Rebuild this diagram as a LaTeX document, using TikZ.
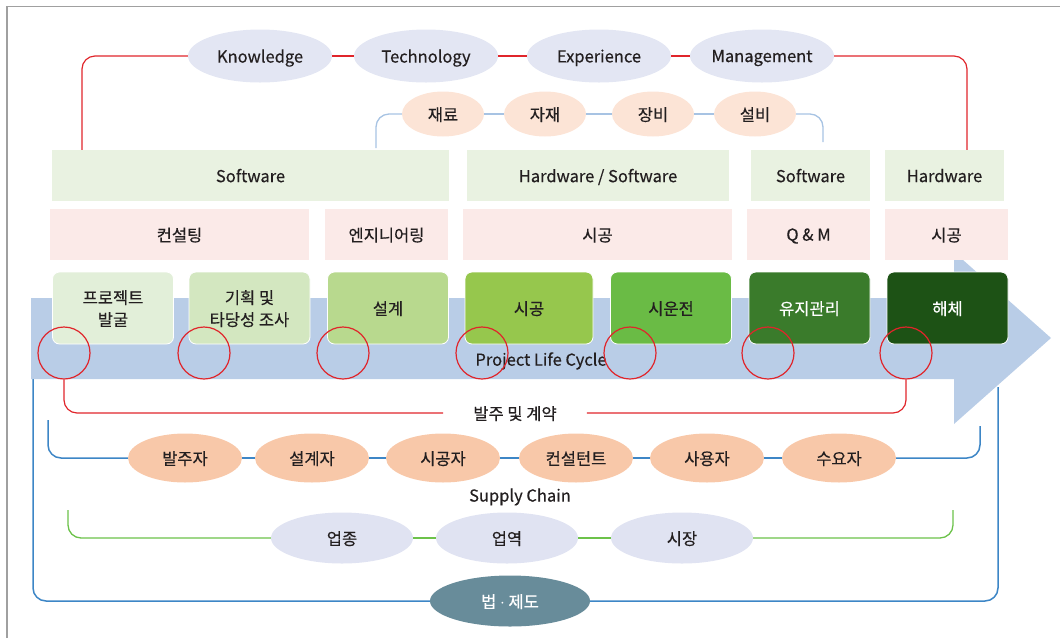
\documentclass[tikz,border=0pt]{standalone}
\usepackage{fontspec}
\setmainfont{Noto Sans CJK KR}[FakeBold=0.4]
\usetikzlibrary{shapes.geometric}
\pgfdeclarelayer{bg}
\pgfsetlayers{bg,main}
\definecolor{txt}{HTML}{231F20}
\definecolor{lav}{HTML}{E3E6F3}
\definecolor{lav2}{HTML}{E0E3F2}
\definecolor{peachL}{HTML}{FCE4D6}
\definecolor{peach}{HTML}{F8C8A9}
\definecolor{hdrg}{HTML}{E9F2E1}
\definecolor{pinkb}{HTML}{FBEAE8}
\definecolor{arrowc}{HTML}{B9CDE7}
\definecolor{redl}{HTML}{E0252B}
\definecolor{lblue}{HTML}{A7C3E3}
\definecolor{bluel}{HTML}{3D86C6}
\definecolor{greenl}{HTML}{6CC24A}
\definecolor{teal}{HTML}{688C9A}
\definecolor{frame}{HTML}{A0A0A0}
\definecolor{ph1}{HTML}{E2EFD9}
\definecolor{ph2}{HTML}{D3E7C0}
\definecolor{ph3}{HTML}{B8D98E}
\definecolor{ph4}{HTML}{96C74D}
\definecolor{ph5}{HTML}{6ABB45}
\definecolor{ph6}{HTML}{3A7B2B}
\definecolor{ph7}{HTML}{1D5215}
\begin{document}
\begin{tikzpicture}[x=1pt,y=-1pt,
  every node/.style={text=txt, text depth=0pt, font=\fontsize{16.5}{19}\selectfont},
  ell/.style={ellipse, inner sep=0pt},
  topell/.style={ell, fill=lav, minimum width=144pt, minimum height=53pt},
  matell/.style={ell, fill=peachL, minimum width=82pt, minimum height=45pt},
  scell/.style={ell, fill=peach, minimum width=114pt, minimum height=49pt},
  indell/.style={ell, fill=lav2, minimum width=142pt, minimum height=51pt},
  hdr/.style={rectangle, inner sep=0pt, fill=hdrg, minimum height=51pt},
  pbox/.style={rectangle, inner sep=0pt, fill=pinkb, minimum height=51pt},
  phase/.style={rectangle, rounded corners=7pt, inner sep=0pt, draw=white, line width=0.8pt, minimum height=72pt, minimum width=121pt, align=center, font=\fontsize{16.5}{22}\selectfont},
  ring/.style={circle, draw=redl, line width=1.2pt, minimum size=52pt, inner sep=0pt},
  redline/.style={draw=redl, line width=1.2pt, rounded corners=13pt},
  lbline/.style={draw=lblue, line width=1.3pt, rounded corners=13pt},
  blline/.style={draw=bluel, line width=1.5pt, rounded corners=13pt},
  grline/.style={draw=greenl, line width=1.3pt, rounded corners=13pt}
]
\useasboundingbox (0,0) rectangle (1060,638);
% frame
\draw[frame, line width=1.5pt] (7,638) -- (7,6.5) -- (1060,6.5);

% big arrow
\fill[arrowc] (31,298) -- (954,298) -- (954,252) -- (1051,338) -- (954,424) -- (954,379) -- (31,379) -- cycle;
\node (plc) at (541,359) {Project Life Cycle};

% top ellipses
\node[topell] (know) at (260,56) {Knowledge};
\node[topell] (tech) at (426,56) {Technology};
\node[topell] (expe) at (599,56) {Experience};
\node[topell] (mgmt) at (762,56) {Management};

% material ellipses
\node[matell] (m1) at (443,114) {재료};
\node[matell] (m2) at (545,114) {자재};
\node[matell] (m3) at (653,114) {장비};
\node[matell] (m4) at (755,114) {설비};

% header boxes
\node[hdr, minimum width=397pt] (h1) at (250.5,175.5) {Software};
\node[hdr, minimum width=262pt] (h2) at (598,175.5) {Hardware / Software};
\node[hdr, minimum width=119pt] (h3) at (810.5,175.5) {Software};
\node[hdr, minimum width=119pt] (h4) at (944.5,175.5) {Hardware};

% pink boxes
\node[pbox, minimum width=259pt] (p1) at (179.5,234.5) {컨설팅};
\node[pbox, minimum width=123pt] (p2) at (386.5,234.5) {엔지니어링};
\node[pbox, minimum width=269pt] (p3) at (597.5,234.5) {시공};
\node[pbox, minimum width=123pt] (p4) at (808.5,234.5) {Q \& M};
\node[pbox, minimum width=123pt] (p5) at (946.5,234.5) {시공};

% phase boxes
\node[phase, fill=ph1] (f1) at (113,308) {프로젝트\\발굴};
\node[phase, fill=ph2] (f2) at (249.5,308) {기획 및\\타당성 조사};
\node[phase, fill=ph3] (f3) at (388,308) {설계};
\node[phase, fill=ph4, minimum width=128pt] (f4) at (529,308) {시공};
\node[phase, fill=ph5] (f5) at (671,308) {시운전};
\node[phase, fill=ph6, text=white] (f6) at (809.5,308) {유지관리};
\node[phase, fill=ph7, text=white] (f7) at (947.5,308) {해체};

% red rings
\node[ring] (c1) at (64,353) {};
\node[ring] (c2) at (204,353) {};
\node[ring] (c3) at (343,353) {};
\node[ring] (c4) at (482,353) {};
\node[ring] (c5) at (630,353) {};
\node[ring] (c6) at (768,353) {};
\node[ring] (c7) at (906,353) {};

% contract label
\node[inner xsep=30pt, inner ysep=0pt] (ctr) at (515,413) {발주 및 계약};

% supply chain
\node[scell] (s1) at (185,458) {발주자};
\node[scell] (s2) at (312,458) {설계자};
\node[scell] (s3) at (443,458) {시공자};
\node[scell] (s4) at (576,458) {컨설턴트};
\node[scell] (s5) at (707,458) {사용자};
\node[scell] (s6) at (839,458) {수요자};
\node (scl) at (520,495) {Supply Chain};

% industry
\node[indell] (i1) at (342,538) {업종};
\node[indell] (i2) at (507,538) {업역};
\node[indell] (i3) at (682,538) {시장};

% law
\node[ell, fill=teal, text=white, minimum width=160pt, minimum height=51pt] (law) at (510,601) {법 $\cdot$ 제도};

% connector end points
\coordinate (t1) at (82,150);
\coordinate (t2) at (967,150);
\coordinate (b1) at (376,148);
\coordinate (b2) at (823,142);
\coordinate (sL) at (48,420);
\coordinate (sR) at (980,426);
\coordinate (gL) at (68,510);
\coordinate (gR) at (953,510);
\coordinate (oL) at (33,379);
\coordinate (oR) at (998,387);

\begin{pgfonlayer}{bg}
\draw[redline] (t1) |- (know.west);
\draw[redline] (know.east) -- (tech.west);
\draw[redline] (tech.east) -- (expe.west);
\draw[redline] (expe.east) -- (mgmt.west);
\draw[redline] (mgmt.east) -| (t2);

\draw[lbline] (b1) |- (m1.west);
\draw[lbline] (m1.east) -- (m2.west);
\draw[lbline] (m2.east) -- (m3.west);
\draw[lbline] (m3.east) -- (m4.west);
\draw[lbline] (m4.east) -| (b2);

\draw[redline] (c1.south) |- (ctr.west);
\draw[redline] (ctr.east) -| (c7.south);

\draw[blline] (sL) |- (s1.west);
\draw[blline] (s1.east) -- (s2.west);
\draw[blline] (s2.east) -- (s3.west);
\draw[blline] (s3.east) -- (s4.west);
\draw[blline] (s4.east) -- (s5.west);
\draw[blline] (s5.east) -- (s6.west);
\draw[blline] (s6.east) -| (sR);

\draw[grline] (gL) |- (i1.west);
\draw[grline] (i1.east) -- (i2.west);
\draw[grline] (i2.east) -- (i3.west);
\draw[grline] (i3.east) -| (gR);

\draw[blline] (oL) |- (law.west);
\draw[blline] (law.east) -| (oR);
\end{pgfonlayer}
\end{tikzpicture}
\end{document}
